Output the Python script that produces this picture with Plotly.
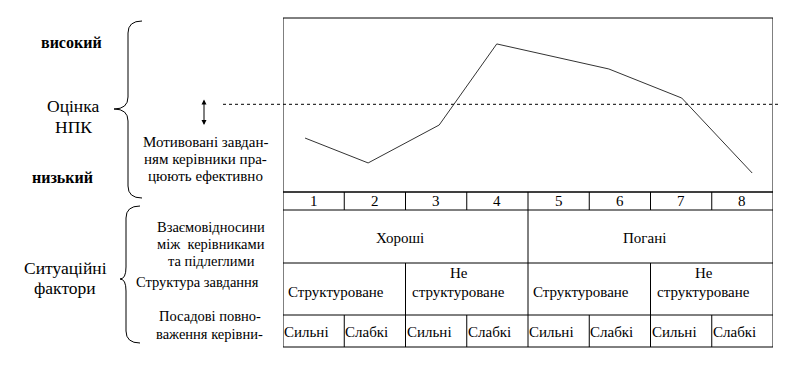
import plotly.graph_objects as go

# ---------------- data ----------------
situations = ["1", "2", "3", "4", "5", "6", "7", "8"]
npk_x = [0.86, 1.89, 3.05, 3.99, 5.82, 7.01, 8.16]
npk_y = [3.10, 1.67, 3.85, 8.51, 7.07, 5.40, 1.09]
threshold = 5.04

relations = ["Хороші", "Погані"]
structure = ["Структуроване", "Не|структуроване", "Структуроване", "Не|структуроване"]
power = ["Сильні", "Слабкі", "Сильні", "Слабкі", "Сильні", "Слабкі", "Сильні", "Слабкі"]

OFF = 8                      # page body margin
W, H = 792 - OFF, 373 - OFF
FONT = "'Liberation Serif', 'Times New Roman', serif"


def px(x):
    return (x - OFF) / W


def py(y):
    return 1 - (y - OFF) / H


fig = go.Figure()
fig.add_trace(go.Scatter(x=npk_x, y=npk_y, mode="lines",
                         line=dict(color="#333333", width=1), hoverinfo="skip",
                         showlegend=False))

shapes = []
ann = []
blk = dict(color="black", width=1)

# plot frame
shapes.append(dict(type="rect", xref="x", yref="paper", x0=0.5, x1=8.5,
                   y0=py(192), y1=py(18), line=blk))
# threshold dotted line
shapes.append(dict(type="line", xref="paper", yref="y", x0=px(223), x1=px(778),
                   y0=threshold, y1=threshold,
                   line=dict(color="black", width=1, dash="dot")))

# table
rows = [192, 210, 263, 315, 347]
shapes.append(dict(type="rect", xref="x", yref="paper", x0=0.5, x1=8.5,
                   y0=py(rows[-1]), y1=py(rows[0]), line=blk))
for r in rows[1:-1]:
    shapes.append(dict(type="line", xref="x", yref="paper", x0=0.5, x1=8.5,
                       y0=py(r), y1=py(r), line=blk))


def vlines(step, r0, r1):
    for k in range(step, 8, step):
        shapes.append(dict(type="line", xref="x", yref="paper", x0=0.5 + k, x1=0.5 + k,
                           y0=py(rows[r1]), y1=py(rows[r0]), line=blk))


vlines(1, 0, 1)
vlines(4, 1, 2)
vlines(2, 2, 3)
vlines(1, 3, 4)


def tann(x, y, text, size=15, xanchor="center", xshift=0, xref="x", bold=False):
    ann.append(dict(x=x, y=py(y), xref=xref, yref="paper",
                    text=("<b>%s</b>" % text) if bold else text,
                    showarrow=False, xanchor=xanchor, yanchor="middle", xshift=xshift,
                    font=dict(family=FONT, size=size, color="black")))


for i, s in enumerate(situations):
    tann(i + 1, 201, s)
for i, s in enumerate(relations):
    tann(4 * i + 2.5, 238, s, xshift=-6)
for i, s in enumerate(structure):
    parts = s.split("|")
    if len(parts) == 1:
        tann(2 * i + 1.5, 292, parts[0], xshift=-8)
    else:
        tann(2 * i + 1.5, 273, parts[0], xshift=-8)
        tann(2 * i + 1.5, 292, parts[1], xshift=-8)
for i, s in enumerate(power):
    tann(i + 0.5, 332, s, xanchor="left", xshift=-1)


# left labels (one annotation per line)
def lab(x, ys, lines, size=14, bold=False):
    for y, t in zip(ys, lines):
        tann(px(x), y, t, size=size, xref="paper", bold=bold)


lab(71, [43], ["високий"], 16, True)
lab(63, [177], ["низький"], 16, True)
lab(73, [106, 127], ["Оцінка", "НПК"], 17.5)
lab(206, [142, 159, 176], ["Мотивовані завдан-", "ням керівники пра-", "цюють ефективно"], 15)
lab(65, [268, 288], ["Ситуаційні", "фактори"], 17.5)
lab(211, [227, 244, 261], ["Взаємовідносини", "між  керівниками", "та підлеглими"], 14.5)
lab(197, [282], ["Структура завдання"], 14.5)
lab(210, [316, 334], ["Посадові повно-", "важення керівни-"], 14.5)


# braces
def brace(xr, xm, xt, y0, yt, y1):
    r = 12
    d = (f"M{px(xr)},{py(y0)} Q{px(xm)},{py(y0)} {px(xm)},{py(y0 + r)} "
         f"L{px(xm)},{py(yt - r)} Q{px(xm)},{py(yt)} {px(xt)},{py(yt)} "
         f"Q{px(xm)},{py(yt)} {px(xm)},{py(yt + r)} "
         f"L{px(xm)},{py(y1 - r)} Q{px(xm)},{py(y1)} {px(xr)},{py(y1)}")
    shapes.append(dict(type="path", xref="paper", yref="paper", path=d,
                       line=dict(color="black", width=1)))


brace(142, 128, 114, 21, 109, 198)
brace(140, 126, 120, 206, 279, 343)

# double arrow
ann.append(dict(x=px(204), y=py(125), ax=0, ay=-27, xref="paper", yref="paper",
                text="", showarrow=True,
                arrowhead=2, startarrowhead=2, arrowside="end+start",
                arrowsize=1, arrowwidth=1, arrowcolor="black",
                standoff=0, startstandoff=0))

fig.update_layout(
    width=W, height=H, margin=dict(l=0, r=0, t=0, b=0),
    paper_bgcolor="white", plot_bgcolor="white",
    xaxis=dict(domain=[px(283), px(773)], range=[0.5, 8.5], visible=False),
    yaxis=dict(domain=[py(192), py(18)], range=[0, 10], visible=False),
    shapes=shapes, annotations=ann, showlegend=False,
)

fig.write_html("out.html")
